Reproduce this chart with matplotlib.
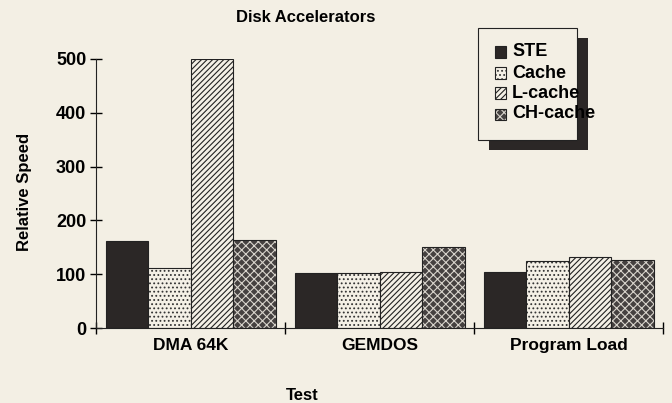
import matplotlib.pyplot as plt
from matplotlib.patches import Rectangle
from matplotlib.colors import to_rgba
import numpy as np

plt.rcParams['font.family'] = ['Liberation Sans', 'DejaVu Sans']
plt.rcParams['hatch.linewidth'] = 0.8

tests = ["DMA 64K", "GEMDOS", "Program Load"]
series = ["STE", "Cache", "L-cache", "CH-cache"]
ste = [162, 103, 105]
cache = [112, 103, 124]
lcache = [500, 105, 132]
chcache = [163, 150, 127]

values = [ste, cache, lcache, chcache]
faces = ['#2b2726', '#f4f0e6', '#f4f0e6', '#454140']
hatches = [None, '....', '//////', 'xxxx']
hatch_cols = ['#2b2726', '#333333', '#222222', '#d8d4cc']

bg = '#f3efe4'
W, H = 672, 403
fig = plt.figure(figsize=(6.72, 4.03), dpi=100, facecolor=bg)
ax = fig.add_axes([0.143, 0.186, 0.844, 0.668])
ax.set_facecolor(bg)

x = np.arange(len(tests)) + 0.5
w = 0.225
for i, (name, vals) in enumerate(zip(series, values)):
    pos = x + (i - 1.5) * w
    bars = ax.bar(pos, vals, w, facecolor=faces[i], edgecolor='#222222',
                  linewidth=0.8, hatch=hatches[i], label=name)
    for b in bars:
        b._hatch_color = to_rgba(hatch_cols[i])

ax.set_xlim(0, 3)
ax.set_ylim(0, 500)
ax.set_yticks([0, 100, 200, 300, 400, 500])
ax.set_xticks(x)
ax.set_xticklabels(tests)
ax.set_xticks([0, 1, 2, 3], minor=True)
ax.tick_params(axis='x', which='major', length=0, pad=7, labelsize=12.5)
ax.tick_params(axis='x', which='minor', direction='inout', length=8, width=1)
ax.tick_params(axis='y', direction='inout', length=8, width=1, labelsize=13, pad=3)
for lab in ax.get_xticklabels() + ax.get_yticklabels():
    lab.set_fontweight('bold')
ax.spines['top'].set_visible(False)
ax.spines['right'].set_visible(False)
ax.spines['left'].set_color('#222222')
ax.spines['bottom'].set_color('#222222')

fig.text(306 / W, 1 - 18 / H, "Disk Accelerators", ha='center', va='center',
         fontsize=12, fontweight='bold')
fig.text(25 / W, 1 - 192 / H, "Relative Speed", ha='center', va='center',
         rotation=90, fontsize=12, fontweight='bold')
fig.text(302 / W, 1 - 395 / H, "Test", ha='center', va='center',
         fontsize=12, fontweight='bold')

# legend box with drop shadow, drawn in figure pixels
def fx(px):
    return px / W

def fy(py):
    return 1 - py / H

fig.patches.append(Rectangle((fx(489), fy(150)), fx(588) - fx(489), fy(38) - fy(150),
                             transform=fig.transFigure, facecolor='#2b2726',
                             edgecolor='none', zorder=5))
fig.patches.append(Rectangle((fx(478), fy(140)), fx(577) - fx(478), fy(28) - fy(140),
                             transform=fig.transFigure, facecolor=bg,
                             edgecolor='#222222', linewidth=0.8, zorder=6))
row_y = [52, 73, 93, 114]
for i, name in enumerate(series):
    r = Rectangle((fx(495), fy(row_y[i] + 5.5)), fx(506) - fx(495), 11 / H,
                  transform=fig.transFigure, facecolor=faces[i],
                  edgecolor='#222222', linewidth=0.8, hatch=hatches[i], zorder=7)
    r._hatch_color = to_rgba(hatch_cols[i])
    fig.patches.append(r)
    fig.text(fx(512), fy(row_y[i]), name, ha='left', va='center',
             fontsize=13, fontweight='bold', zorder=8)

fig.savefig("out.png", dpi=100, facecolor=bg)
